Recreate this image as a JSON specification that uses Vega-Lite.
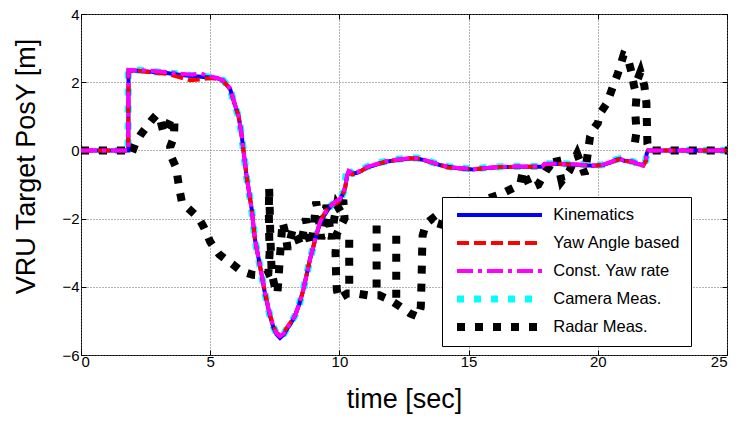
{
  "$schema": "https://vega.github.io/schema/vega-lite/v6.json",
  "width": 646,
  "height": 341,
  "autosize": "none",
  "padding": {"left": 81, "top": 14, "right": 15, "bottom": 69},
  "background": "white",
  "config": {
    "view": {"stroke": "black", "strokeWidth": 1},
    "axis": {
      "labelFont": "Liberation Sans", "labelFontSize": 15, "labelColor": "black",
      "titleFont": "Liberation Sans", "titleFontSize": 27, "titleFontWeight": "normal", "titleColor": "black",
      "gridColor": "#666", "gridDash": [1, 2], "gridOpacity": 1, "gridWidth": 1,
      "tickColor": "black", "tickWidth": 1, "domain": false
    }
  },
  "data": {"values": [
    {"s":"Kinematics","t":0,"v":0},{"s":"Kinematics","t":1.83,"v":0},{"s":"Kinematics","t":1.84,"v":2.35},{"s":"Kinematics","t":2.3,"v":2.33},{"s":"Kinematics","t":2.8,"v":2.3},{"s":"Kinematics","t":3.3,"v":2.27},{"s":"Kinematics","t":3.8,"v":2.22},{"s":"Kinematics","t":4.3,"v":2.18},{"s":"Kinematics","t":4.8,"v":2.15},{"s":"Kinematics","t":5.25,"v":2.12},{"s":"Kinematics","t":5.5,"v":2.05},{"s":"Kinematics","t":5.77,"v":1.8},{"s":"Kinematics","t":5.95,"v":1.35},{"s":"Kinematics","t":6.1,"v":1.0},{"s":"Kinematics","t":6.2,"v":0.55},{"s":"Kinematics","t":6.28,"v":0.05},{"s":"Kinematics","t":6.41,"v":-0.77},{"s":"Kinematics","t":6.52,"v":-1.3},{"s":"Kinematics","t":6.61,"v":-1.75},{"s":"Kinematics","t":6.73,"v":-2.6},{"s":"Kinematics","t":6.93,"v":-3.4},{"s":"Kinematics","t":7.12,"v":-4.2},{"s":"Kinematics","t":7.31,"v":-4.85},{"s":"Kinematics","t":7.45,"v":-5.2},{"s":"Kinematics","t":7.57,"v":-5.4},{"s":"Kinematics","t":7.7,"v":-5.5},{"s":"Kinematics","t":7.85,"v":-5.4},{"s":"Kinematics","t":7.96,"v":-5.25},{"s":"Kinematics","t":8.1,"v":-5.1},{"s":"Kinematics","t":8.28,"v":-4.85},{"s":"Kinematics","t":8.45,"v":-4.5},{"s":"Kinematics","t":8.6,"v":-4.1},{"s":"Kinematics","t":8.73,"v":-3.65},{"s":"Kinematics","t":8.86,"v":-3.2},{"s":"Kinematics","t":9.0,"v":-2.8},{"s":"Kinematics","t":9.12,"v":-2.45},{"s":"Kinematics","t":9.25,"v":-2.15},{"s":"Kinematics","t":9.38,"v":-1.95},{"s":"Kinematics","t":9.55,"v":-1.75},{"s":"Kinematics","t":9.7,"v":-1.6},{"s":"Kinematics","t":9.85,"v":-1.5},{"s":"Kinematics","t":10.02,"v":-1.45},{"s":"Kinematics","t":10.15,"v":-1.25},{"s":"Kinematics","t":10.22,"v":-1.1},{"s":"Kinematics","t":10.3,"v":-0.75},{"s":"Kinematics","t":10.36,"v":-0.62},{"s":"Kinematics","t":10.5,"v":-0.68},{"s":"Kinematics","t":10.67,"v":-0.66},{"s":"Kinematics","t":10.85,"v":-0.6},{"s":"Kinematics","t":11.06,"v":-0.5},{"s":"Kinematics","t":11.3,"v":-0.45},{"s":"Kinematics","t":11.57,"v":-0.38},{"s":"Kinematics","t":11.83,"v":-0.33},{"s":"Kinematics","t":12.22,"v":-0.28},{"s":"Kinematics","t":12.73,"v":-0.24},{"s":"Kinematics","t":13.0,"v":-0.24},{"s":"Kinematics","t":13.25,"v":-0.28},{"s":"Kinematics","t":13.6,"v":-0.36},{"s":"Kinematics","t":13.89,"v":-0.43},{"s":"Kinematics","t":14.2,"v":-0.48},{"s":"Kinematics","t":14.54,"v":-0.52},{"s":"Kinematics","t":15.18,"v":-0.56},{"s":"Kinematics","t":15.6,"v":-0.52},{"s":"Kinematics","t":16.21,"v":-0.49},{"s":"Kinematics","t":17.0,"v":-0.48},{"s":"Kinematics","t":17.85,"v":-0.48},{"s":"Kinematics","t":17.95,"v":-0.4},{"s":"Kinematics","t":18.5,"v":-0.4},{"s":"Kinematics","t":19.2,"v":-0.42},{"s":"Kinematics","t":19.8,"v":-0.45},{"s":"Kinematics","t":20.2,"v":-0.43},{"s":"Kinematics","t":20.5,"v":-0.35},{"s":"Kinematics","t":20.7,"v":-0.28},{"s":"Kinematics","t":20.86,"v":-0.25},{"s":"Kinematics","t":21.0,"v":-0.3},{"s":"Kinematics","t":21.2,"v":-0.32},{"s":"Kinematics","t":21.37,"v":-0.33},{"s":"Kinematics","t":21.55,"v":-0.4},{"s":"Kinematics","t":21.76,"v":-0.43},{"s":"Kinematics","t":21.86,"v":-0.3},{"s":"Kinematics","t":21.89,"v":-0.1},{"s":"Kinematics","t":21.95,"v":0},{"s":"Kinematics","t":25,"v":0},

    {"s":"Yaw Angle based","t":0,"v":0},{"s":"Yaw Angle based","t":1.83,"v":0},{"s":"Yaw Angle based","t":1.84,"v":2.33},{"s":"Yaw Angle based","t":2.3,"v":2.33},{"s":"Yaw Angle based","t":2.8,"v":2.28},{"s":"Yaw Angle based","t":3.3,"v":2.25},{"s":"Yaw Angle based","t":3.8,"v":2.15},{"s":"Yaw Angle based","t":4.2,"v":2.06},{"s":"Yaw Angle based","t":4.6,"v":2.08},{"s":"Yaw Angle based","t":5.0,"v":2.12},{"s":"Yaw Angle based","t":5.25,"v":2.1},{"s":"Yaw Angle based","t":5.5,"v":2.03},{"s":"Yaw Angle based","t":5.77,"v":1.8},{"s":"Yaw Angle based","t":5.95,"v":1.35},{"s":"Yaw Angle based","t":6.1,"v":1.0},{"s":"Yaw Angle based","t":6.2,"v":0.55},{"s":"Yaw Angle based","t":6.28,"v":0.05},{"s":"Yaw Angle based","t":6.41,"v":-0.77},{"s":"Yaw Angle based","t":6.52,"v":-1.3},{"s":"Yaw Angle based","t":6.61,"v":-1.75},{"s":"Yaw Angle based","t":6.73,"v":-2.6},{"s":"Yaw Angle based","t":6.93,"v":-3.4},{"s":"Yaw Angle based","t":7.12,"v":-4.15},{"s":"Yaw Angle based","t":7.31,"v":-4.8},{"s":"Yaw Angle based","t":7.45,"v":-5.15},{"s":"Yaw Angle based","t":7.57,"v":-5.35},{"s":"Yaw Angle based","t":7.7,"v":-5.42},{"s":"Yaw Angle based","t":7.85,"v":-5.35},{"s":"Yaw Angle based","t":7.96,"v":-5.2},{"s":"Yaw Angle based","t":8.1,"v":-5.05},{"s":"Yaw Angle based","t":8.28,"v":-4.85},{"s":"Yaw Angle based","t":8.45,"v":-4.5},{"s":"Yaw Angle based","t":8.6,"v":-4.1},{"s":"Yaw Angle based","t":8.73,"v":-3.65},{"s":"Yaw Angle based","t":8.86,"v":-3.2},{"s":"Yaw Angle based","t":9.0,"v":-2.8},{"s":"Yaw Angle based","t":9.12,"v":-2.45},{"s":"Yaw Angle based","t":9.25,"v":-2.1},{"s":"Yaw Angle based","t":9.38,"v":-1.9},{"s":"Yaw Angle based","t":9.55,"v":-1.7},{"s":"Yaw Angle based","t":9.7,"v":-1.58},{"s":"Yaw Angle based","t":9.9,"v":-1.55},{"s":"Yaw Angle based","t":10.02,"v":-1.45},{"s":"Yaw Angle based","t":10.15,"v":-1.25},{"s":"Yaw Angle based","t":10.22,"v":-1.1},{"s":"Yaw Angle based","t":10.3,"v":-0.75},{"s":"Yaw Angle based","t":10.36,"v":-0.65},{"s":"Yaw Angle based","t":10.5,"v":-0.7},{"s":"Yaw Angle based","t":10.67,"v":-0.67},{"s":"Yaw Angle based","t":10.85,"v":-0.6},{"s":"Yaw Angle based","t":11.06,"v":-0.5},{"s":"Yaw Angle based","t":11.3,"v":-0.45},{"s":"Yaw Angle based","t":11.57,"v":-0.38},{"s":"Yaw Angle based","t":11.83,"v":-0.33},{"s":"Yaw Angle based","t":12.22,"v":-0.28},{"s":"Yaw Angle based","t":12.73,"v":-0.23},{"s":"Yaw Angle based","t":13.0,"v":-0.24},{"s":"Yaw Angle based","t":13.25,"v":-0.28},{"s":"Yaw Angle based","t":13.6,"v":-0.36},{"s":"Yaw Angle based","t":13.89,"v":-0.43},{"s":"Yaw Angle based","t":14.2,"v":-0.5},{"s":"Yaw Angle based","t":14.54,"v":-0.52},{"s":"Yaw Angle based","t":15.18,"v":-0.55},{"s":"Yaw Angle based","t":15.6,"v":-0.53},{"s":"Yaw Angle based","t":16.21,"v":-0.49},{"s":"Yaw Angle based","t":17.0,"v":-0.48},{"s":"Yaw Angle based","t":17.85,"v":-0.48},{"s":"Yaw Angle based","t":17.95,"v":-0.4},{"s":"Yaw Angle based","t":18.5,"v":-0.4},{"s":"Yaw Angle based","t":19.2,"v":-0.42},{"s":"Yaw Angle based","t":19.8,"v":-0.45},{"s":"Yaw Angle based","t":20.2,"v":-0.43},{"s":"Yaw Angle based","t":20.5,"v":-0.35},{"s":"Yaw Angle based","t":20.7,"v":-0.3},{"s":"Yaw Angle based","t":20.86,"v":-0.25},{"s":"Yaw Angle based","t":21.0,"v":-0.3},{"s":"Yaw Angle based","t":21.2,"v":-0.33},{"s":"Yaw Angle based","t":21.37,"v":-0.35},{"s":"Yaw Angle based","t":21.55,"v":-0.42},{"s":"Yaw Angle based","t":21.76,"v":-0.45},{"s":"Yaw Angle based","t":21.86,"v":-0.3},{"s":"Yaw Angle based","t":21.89,"v":-0.1},{"s":"Yaw Angle based","t":21.95,"v":0},{"s":"Yaw Angle based","t":25,"v":0},

    {"s":"Const. Yaw rate","t":0,"v":0},{"s":"Const. Yaw rate","t":1.83,"v":0},{"s":"Const. Yaw rate","t":1.84,"v":2.36},{"s":"Const. Yaw rate","t":2.3,"v":2.35},{"s":"Const. Yaw rate","t":2.8,"v":2.33},{"s":"Const. Yaw rate","t":3.3,"v":2.3},{"s":"Const. Yaw rate","t":3.8,"v":2.25},{"s":"Const. Yaw rate","t":4.3,"v":2.22},{"s":"Const. Yaw rate","t":4.6,"v":2.26},{"s":"Const. Yaw rate","t":5.0,"v":2.17},{"s":"Const. Yaw rate","t":5.25,"v":2.13},{"s":"Const. Yaw rate","t":5.5,"v":2.06},{"s":"Const. Yaw rate","t":5.77,"v":1.82},{"s":"Const. Yaw rate","t":5.95,"v":1.38},{"s":"Const. Yaw rate","t":6.1,"v":1.0},{"s":"Const. Yaw rate","t":6.2,"v":0.55},{"s":"Const. Yaw rate","t":6.28,"v":0.05},{"s":"Const. Yaw rate","t":6.41,"v":-0.77},{"s":"Const. Yaw rate","t":6.52,"v":-1.3},{"s":"Const. Yaw rate","t":6.61,"v":-1.75},{"s":"Const. Yaw rate","t":6.73,"v":-2.6},{"s":"Const. Yaw rate","t":6.93,"v":-3.4},{"s":"Const. Yaw rate","t":7.12,"v":-4.17},{"s":"Const. Yaw rate","t":7.31,"v":-4.82},{"s":"Const. Yaw rate","t":7.45,"v":-5.17},{"s":"Const. Yaw rate","t":7.57,"v":-5.37},{"s":"Const. Yaw rate","t":7.7,"v":-5.45},{"s":"Const. Yaw rate","t":7.85,"v":-5.37},{"s":"Const. Yaw rate","t":7.96,"v":-5.22},{"s":"Const. Yaw rate","t":8.1,"v":-5.07},{"s":"Const. Yaw rate","t":8.28,"v":-4.85},{"s":"Const. Yaw rate","t":8.45,"v":-4.5},{"s":"Const. Yaw rate","t":8.6,"v":-4.1},{"s":"Const. Yaw rate","t":8.73,"v":-3.65},{"s":"Const. Yaw rate","t":8.86,"v":-3.2},{"s":"Const. Yaw rate","t":9.0,"v":-2.8},{"s":"Const. Yaw rate","t":9.12,"v":-2.42},{"s":"Const. Yaw rate","t":9.25,"v":-2.1},{"s":"Const. Yaw rate","t":9.38,"v":-1.9},{"s":"Const. Yaw rate","t":9.55,"v":-1.72},{"s":"Const. Yaw rate","t":9.7,"v":-1.6},{"s":"Const. Yaw rate","t":9.85,"v":-1.5},{"s":"Const. Yaw rate","t":10.02,"v":-1.42},{"s":"Const. Yaw rate","t":10.15,"v":-1.22},{"s":"Const. Yaw rate","t":10.22,"v":-1.05},{"s":"Const. Yaw rate","t":10.3,"v":-0.72},{"s":"Const. Yaw rate","t":10.36,"v":-0.6},{"s":"Const. Yaw rate","t":10.5,"v":-0.66},{"s":"Const. Yaw rate","t":10.67,"v":-0.64},{"s":"Const. Yaw rate","t":10.85,"v":-0.58},{"s":"Const. Yaw rate","t":11.06,"v":-0.48},{"s":"Const. Yaw rate","t":11.3,"v":-0.43},{"s":"Const. Yaw rate","t":11.57,"v":-0.36},{"s":"Const. Yaw rate","t":11.83,"v":-0.31},{"s":"Const. Yaw rate","t":12.22,"v":-0.27},{"s":"Const. Yaw rate","t":12.73,"v":-0.23},{"s":"Const. Yaw rate","t":13.0,"v":-0.23},{"s":"Const. Yaw rate","t":13.25,"v":-0.27},{"s":"Const. Yaw rate","t":13.6,"v":-0.35},{"s":"Const. Yaw rate","t":13.89,"v":-0.42},{"s":"Const. Yaw rate","t":14.2,"v":-0.48},{"s":"Const. Yaw rate","t":14.54,"v":-0.51},{"s":"Const. Yaw rate","t":15.18,"v":-0.55},{"s":"Const. Yaw rate","t":15.6,"v":-0.52},{"s":"Const. Yaw rate","t":16.21,"v":-0.48},{"s":"Const. Yaw rate","t":17.0,"v":-0.47},{"s":"Const. Yaw rate","t":17.85,"v":-0.47},{"s":"Const. Yaw rate","t":17.95,"v":-0.39},{"s":"Const. Yaw rate","t":18.5,"v":-0.39},{"s":"Const. Yaw rate","t":19.2,"v":-0.41},{"s":"Const. Yaw rate","t":19.8,"v":-0.44},{"s":"Const. Yaw rate","t":20.2,"v":-0.42},{"s":"Const. Yaw rate","t":20.5,"v":-0.34},{"s":"Const. Yaw rate","t":20.7,"v":-0.27},{"s":"Const. Yaw rate","t":20.86,"v":-0.24},{"s":"Const. Yaw rate","t":21.0,"v":-0.29},{"s":"Const. Yaw rate","t":21.2,"v":-0.31},{"s":"Const. Yaw rate","t":21.37,"v":-0.33},{"s":"Const. Yaw rate","t":21.55,"v":-0.4},{"s":"Const. Yaw rate","t":21.76,"v":-0.43},{"s":"Const. Yaw rate","t":21.86,"v":-0.3},{"s":"Const. Yaw rate","t":21.89,"v":-0.1},{"s":"Const. Yaw rate","t":21.95,"v":0},{"s":"Const. Yaw rate","t":25,"v":0},

    {"s":"Camera Meas.","t":0,"v":0},{"s":"Camera Meas.","t":1.82,"v":0},{"s":"Camera Meas.","t":1.83,"v":2.36},{"s":"Camera Meas.","t":2.3,"v":2.35},{"s":"Camera Meas.","t":2.8,"v":2.31},{"s":"Camera Meas.","t":3.3,"v":2.28},{"s":"Camera Meas.","t":3.8,"v":2.24},{"s":"Camera Meas.","t":4.3,"v":2.2},{"s":"Camera Meas.","t":4.8,"v":2.17},{"s":"Camera Meas.","t":5.25,"v":2.13},{"s":"Camera Meas.","t":5.5,"v":2.06},{"s":"Camera Meas.","t":5.77,"v":1.8},{"s":"Camera Meas.","t":5.95,"v":1.33},{"s":"Camera Meas.","t":6.1,"v":0.98},{"s":"Camera Meas.","t":6.2,"v":0.53},{"s":"Camera Meas.","t":6.28,"v":0.03},{"s":"Camera Meas.","t":6.41,"v":-0.8},{"s":"Camera Meas.","t":6.52,"v":-1.33},{"s":"Camera Meas.","t":6.61,"v":-1.78},{"s":"Camera Meas.","t":6.73,"v":-2.62},{"s":"Camera Meas.","t":6.93,"v":-3.42},{"s":"Camera Meas.","t":7.12,"v":-4.2},{"s":"Camera Meas.","t":7.31,"v":-4.85},{"s":"Camera Meas.","t":7.45,"v":-5.18},{"s":"Camera Meas.","t":7.57,"v":-5.38},{"s":"Camera Meas.","t":7.7,"v":-5.47},{"s":"Camera Meas.","t":7.85,"v":-5.38},{"s":"Camera Meas.","t":7.96,"v":-5.23},{"s":"Camera Meas.","t":8.1,"v":-5.08},{"s":"Camera Meas.","t":8.28,"v":-4.85},{"s":"Camera Meas.","t":8.45,"v":-4.5},{"s":"Camera Meas.","t":8.6,"v":-4.1},{"s":"Camera Meas.","t":8.73,"v":-3.65},{"s":"Camera Meas.","t":8.86,"v":-3.2},{"s":"Camera Meas.","t":9.0,"v":-2.8},{"s":"Camera Meas.","t":9.12,"v":-2.45},{"s":"Camera Meas.","t":9.25,"v":-2.15},{"s":"Camera Meas.","t":9.38,"v":-1.95},{"s":"Camera Meas.","t":9.55,"v":-1.75},{"s":"Camera Meas.","t":9.7,"v":-1.6},{"s":"Camera Meas.","t":9.85,"v":-1.5},{"s":"Camera Meas.","t":10.02,"v":-1.45},{"s":"Camera Meas.","t":10.15,"v":-1.25},{"s":"Camera Meas.","t":10.22,"v":-1.0},{"s":"Camera Meas.","t":10.28,"v":-0.5},{"s":"Camera Meas.","t":10.36,"v":-0.6},{"s":"Camera Meas.","t":10.5,"v":-0.68},{"s":"Camera Meas.","t":10.67,"v":-0.65},{"s":"Camera Meas.","t":10.85,"v":-0.58},{"s":"Camera Meas.","t":11.06,"v":-0.48},{"s":"Camera Meas.","t":11.3,"v":-0.43},{"s":"Camera Meas.","t":11.57,"v":-0.36},{"s":"Camera Meas.","t":11.83,"v":-0.31},{"s":"Camera Meas.","t":12.22,"v":-0.26},{"s":"Camera Meas.","t":12.73,"v":-0.22},{"s":"Camera Meas.","t":13.0,"v":-0.22},{"s":"Camera Meas.","t":13.25,"v":-0.27},{"s":"Camera Meas.","t":13.6,"v":-0.35},{"s":"Camera Meas.","t":13.89,"v":-0.42},{"s":"Camera Meas.","t":14.2,"v":-0.47},{"s":"Camera Meas.","t":14.54,"v":-0.51},{"s":"Camera Meas.","t":15.18,"v":-0.55},{"s":"Camera Meas.","t":15.6,"v":-0.51},{"s":"Camera Meas.","t":16.21,"v":-0.48},{"s":"Camera Meas.","t":17.0,"v":-0.47},{"s":"Camera Meas.","t":17.85,"v":-0.47},{"s":"Camera Meas.","t":17.95,"v":-0.39},{"s":"Camera Meas.","t":18.5,"v":-0.39},{"s":"Camera Meas.","t":19.2,"v":-0.41},{"s":"Camera Meas.","t":19.8,"v":-0.44},{"s":"Camera Meas.","t":20.2,"v":-0.42},{"s":"Camera Meas.","t":20.5,"v":-0.34},{"s":"Camera Meas.","t":20.7,"v":-0.27},{"s":"Camera Meas.","t":20.86,"v":-0.24},{"s":"Camera Meas.","t":21.0,"v":-0.29},{"s":"Camera Meas.","t":21.2,"v":-0.31},{"s":"Camera Meas.","t":21.37,"v":-0.33},{"s":"Camera Meas.","t":21.55,"v":-0.4},{"s":"Camera Meas.","t":21.76,"v":-0.43},{"s":"Camera Meas.","t":21.86,"v":-0.3},{"s":"Camera Meas.","t":21.89,"v":-0.1},{"s":"Camera Meas.","t":21.95,"v":0},{"s":"Camera Meas.","t":25,"v":0},

    {"s":"Radar Meas.","g":0,"i":1,"t":0,"v":0},{"s":"Radar Meas.","g":0,"i":2,"t":1.9,"v":0},{"s":"Radar Meas.","g":0,"i":3,"t":1.96,"v":-0.09},{"s":"Radar Meas.","g":0,"i":4,"t":2.1,"v":0.2},{"s":"Radar Meas.","g":0,"i":5,"t":2.3,"v":0.45},{"s":"Radar Meas.","g":0,"i":6,"t":2.55,"v":0.7},{"s":"Radar Meas.","g":0,"i":7,"t":2.75,"v":0.9},{"s":"Radar Meas.","g":0,"i":8,"t":2.93,"v":1.05},{"s":"Radar Meas.","g":0,"i":9,"t":3.05,"v":0.95},{"s":"Radar Meas.","g":0,"i":10,"t":3.2,"v":0.5},{"s":"Radar Meas.","g":0,"i":11,"t":3.35,"v":0.7},{"s":"Radar Meas.","g":0,"i":12,"t":3.5,"v":0.95},{"s":"Radar Meas.","g":0,"i":13,"t":3.62,"v":0.9},{"s":"Radar Meas.","g":0,"i":14,"t":3.6,"v":0.4},{"s":"Radar Meas.","g":0,"i":15,"t":3.45,"v":0.1},{"s":"Radar Meas.","g":0,"i":16,"t":3.5,"v":-0.2},{"s":"Radar Meas.","g":0,"i":17,"t":3.65,"v":-0.45},{"s":"Radar Meas.","g":0,"i":18,"t":3.72,"v":-0.7},{"s":"Radar Meas.","g":0,"i":19,"t":3.8,"v":-1.1},{"s":"Radar Meas.","g":0,"i":20,"t":3.9,"v":-1.5},{"s":"Radar Meas.","g":0,"i":21,"t":4.15,"v":-1.7},{"s":"Radar Meas.","g":0,"i":22,"t":4.41,"v":-1.88},{"s":"Radar Meas.","g":0,"i":23,"t":4.6,"v":-2.05},{"s":"Radar Meas.","g":0,"i":24,"t":4.75,"v":-2.25},{"s":"Radar Meas.","g":0,"i":25,"t":4.9,"v":-2.5},{"s":"Radar Meas.","g":0,"i":26,"t":5.0,"v":-2.68},{"s":"Radar Meas.","g":0,"i":27,"t":5.15,"v":-2.85},{"s":"Radar Meas.","g":0,"i":28,"t":5.35,"v":-3.05},{"s":"Radar Meas.","g":0,"i":29,"t":5.6,"v":-3.2},{"s":"Radar Meas.","g":0,"i":30,"t":5.85,"v":-3.33},{"s":"Radar Meas.","g":0,"i":31,"t":6.1,"v":-3.48},{"s":"Radar Meas.","g":0,"i":32,"t":6.35,"v":-3.58},{"s":"Radar Meas.","g":0,"i":33,"t":6.65,"v":-3.65},{"s":"Radar Meas.","g":0,"i":34,"t":7.05,"v":-3.67},{"s":"Radar Meas.","g":0,"i":35,"t":7.25,"v":-3.6},{"s":"Radar Meas.","g":0,"i":36,"t":7.3,"v":-3.0},{"s":"Radar Meas.","g":0,"i":37,"t":7.28,"v":-2.4},{"s":"Radar Meas.","g":0,"i":38,"t":7.27,"v":-1.8},{"s":"Radar Meas.","g":0,"i":39,"t":7.28,"v":-1.1},{"s":"Radar Meas.","g":0,"i":40,"t":7.3,"v":-1.6},{"s":"Radar Meas.","g":0,"i":41,"t":7.32,"v":-2.3},{"s":"Radar Meas.","g":0,"i":42,"t":7.35,"v":-3.0},{"s":"Radar Meas.","g":0,"i":43,"t":7.38,"v":-3.6},{"s":"Radar Meas.","g":0,"i":44,"t":7.5,"v":-4.0},{"s":"Radar Meas.","g":0,"i":45,"t":7.6,"v":-4.2},{"s":"Radar Meas.","g":0,"i":46,"t":7.65,"v":-3.7},{"s":"Radar Meas.","g":0,"i":47,"t":7.7,"v":-3.1},{"s":"Radar Meas.","g":0,"i":48,"t":7.75,"v":-2.6},{"s":"Radar Meas.","g":0,"i":49,"t":7.8,"v":-2.1},{"s":"Radar Meas.","g":0,"i":50,"t":7.9,"v":-2.4},{"s":"Radar Meas.","g":0,"i":51,"t":8.0,"v":-2.9},{"s":"Radar Meas.","g":0,"i":52,"t":8.1,"v":-2.6},{"s":"Radar Meas.","g":0,"i":53,"t":8.2,"v":-2.3},{"s":"Radar Meas.","g":0,"i":54,"t":8.35,"v":-2.5},{"s":"Radar Meas.","g":0,"i":55,"t":8.5,"v":-2.8},{"s":"Radar Meas.","g":0,"i":56,"t":8.6,"v":-2.4},{"s":"Radar Meas.","g":0,"i":57,"t":8.7,"v":-2.0},{"s":"Radar Meas.","g":0,"i":58,"t":8.8,"v":-2.5},{"s":"Radar Meas.","g":0,"i":59,"t":8.9,"v":-2.8},{"s":"Radar Meas.","g":0,"i":60,"t":9.0,"v":-2.3},{"s":"Radar Meas.","g":0,"i":61,"t":9.1,"v":-1.5},{"s":"Radar Meas.","g":0,"i":62,"t":9.2,"v":-2.0},{"s":"Radar Meas.","g":0,"i":63,"t":9.3,"v":-2.6},{"s":"Radar Meas.","g":0,"i":64,"t":9.4,"v":-2.2},{"s":"Radar Meas.","g":0,"i":65,"t":9.5,"v":-1.6},{"s":"Radar Meas.","g":0,"i":66,"t":9.6,"v":-2.1},{"s":"Radar Meas.","g":0,"i":67,"t":9.7,"v":-2.6},{"s":"Radar Meas.","g":0,"i":68,"t":9.8,"v":-2.0},{"s":"Radar Meas.","g":0,"i":69,"t":9.9,"v":-1.6},{"s":"Radar Meas.","g":0,"i":70,"t":10.05,"v":-1.8},{"s":"Radar Meas.","g":0,"i":71,"t":10.15,"v":-1.45},{"s":"Radar Meas.","g":0,"i":72,"t":10.2,"v":-2.0},{"s":"Radar Meas.","g":0,"i":73,"t":9.9,"v":-2.45},{"s":"Radar Meas.","g":0,"i":74,"t":9.85,"v":-3.0},{"s":"Radar Meas.","g":0,"i":75,"t":9.87,"v":-3.6},{"s":"Radar Meas.","g":0,"i":76,"t":9.9,"v":-4.1},{"s":"Radar Meas.","g":0,"i":77,"t":9.98,"v":-4.35},{"s":"Radar Meas.","g":0,"i":78,"t":10.3,"v":-4.2},{"s":"Radar Meas.","g":0,"i":79,"t":10.7,"v":-4.2},{"s":"Radar Meas.","g":0,"i":80,"t":11.1,"v":-4.25},{"s":"Radar Meas.","g":0,"i":81,"t":11.55,"v":-4.25},{"s":"Radar Meas.","g":0,"i":82,"t":11.96,"v":-4.39},{"s":"Radar Meas.","g":0,"i":83,"t":12.35,"v":-4.58},{"s":"Radar Meas.","g":0,"i":84,"t":12.73,"v":-4.78},{"s":"Radar Meas.","g":0,"i":85,"t":13.05,"v":-4.88},{"s":"Radar Meas.","g":0,"i":86,"t":13.15,"v":-4.6},{"s":"Radar Meas.","g":0,"i":87,"t":13.18,"v":-3.8},{"s":"Radar Meas.","g":0,"i":88,"t":13.2,"v":-3.0},{"s":"Radar Meas.","g":0,"i":89,"t":13.22,"v":-2.5},{"s":"Radar Meas.","g":0,"i":90,"t":13.35,"v":-2.15},{"s":"Radar Meas.","g":0,"i":91,"t":13.6,"v":-2.0},{"s":"Radar Meas.","g":0,"i":92,"t":13.9,"v":-2.3},{"s":"Radar Meas.","g":0,"i":93,"t":14.1,"v":-1.8},{"s":"Radar Meas.","g":0,"i":94,"t":14.4,"v":-1.4},{"s":"Radar Meas.","g":0,"i":95,"t":14.8,"v":-1.6},{"s":"Radar Meas.","g":0,"i":96,"t":15.3,"v":-1.5},{"s":"Radar Meas.","g":0,"i":97,"t":15.8,"v":-1.4},{"s":"Radar Meas.","g":0,"i":98,"t":16.2,"v":-1.3},{"s":"Radar Meas.","g":0,"i":99,"t":16.6,"v":-1.15},{"s":"Radar Meas.","g":0,"i":100,"t":17.0,"v":-1.0},{"s":"Radar Meas.","g":0,"i":101,"t":17.1,"v":-0.6},{"s":"Radar Meas.","g":0,"i":102,"t":17.4,"v":-1.1},{"s":"Radar Meas.","g":0,"i":103,"t":17.7,"v":-1.0},{"s":"Radar Meas.","g":0,"i":104,"t":18.0,"v":-0.6},{"s":"Radar Meas.","g":0,"i":105,"t":18.4,"v":-0.2},{"s":"Radar Meas.","g":0,"i":106,"t":18.6,"v":-0.9},{"s":"Radar Meas.","g":0,"i":107,"t":18.9,"v":-0.6},{"s":"Radar Meas.","g":0,"i":108,"t":19.2,"v":-0.1},{"s":"Radar Meas.","g":0,"i":109,"t":19.5,"v":-0.7},{"s":"Radar Meas.","g":0,"i":110,"t":19.7,"v":0.4},{"s":"Radar Meas.","g":0,"i":111,"t":19.85,"v":0.65},{"s":"Radar Meas.","g":0,"i":112,"t":20.0,"v":0.8},{"s":"Radar Meas.","g":0,"i":113,"t":20.1,"v":1.1},{"s":"Radar Meas.","g":0,"i":114,"t":20.35,"v":1.38},{"s":"Radar Meas.","g":0,"i":115,"t":20.55,"v":1.8},{"s":"Radar Meas.","g":0,"i":116,"t":20.75,"v":2.2},{"s":"Radar Meas.","g":0,"i":117,"t":20.9,"v":2.55},{"s":"Radar Meas.","g":0,"i":118,"t":21.0,"v":2.8},{"s":"Radar Meas.","g":0,"i":119,"t":21.15,"v":2.75},{"s":"Radar Meas.","g":0,"i":120,"t":21.3,"v":2.3},{"s":"Radar Meas.","g":0,"i":121,"t":21.4,"v":1.9},{"s":"Radar Meas.","g":0,"i":122,"t":21.5,"v":1.6},{"s":"Radar Meas.","g":0,"i":123,"t":21.45,"v":1.1},{"s":"Radar Meas.","g":0,"i":124,"t":21.5,"v":0.55},{"s":"Radar Meas.","g":0,"i":125,"t":21.4,"v":0.05},
    {"s":"Radar Meas.","g":1,"i":126,"t":21.55,"v":2.1},{"s":"Radar Meas.","g":1,"i":127,"t":21.65,"v":2.3},{"s":"Radar Meas.","g":1,"i":128,"t":21.8,"v":1.9},{"s":"Radar Meas.","g":1,"i":129,"t":21.88,"v":1.4},{"s":"Radar Meas.","g":1,"i":130,"t":21.9,"v":0.8},{"s":"Radar Meas.","g":1,"i":131,"t":21.92,"v":0.2},{"s":"Radar Meas.","g":1,"i":132,"t":22.0,"v":0},{"s":"Radar Meas.","g":1,"i":133,"t":25,"v":0},
    {"s":"Radar Meas.","g":2,"i":134,"t":10.38,"v":-2.62},{"s":"Radar Meas.","g":2,"i":135,"t":10.38,"v":-3.3},{"s":"Radar Meas.","g":2,"i":136,"t":10.38,"v":-3.92},
    {"s":"Radar Meas.","g":3,"i":137,"t":11.44,"v":-2.2},{"s":"Radar Meas.","g":3,"i":138,"t":11.44,"v":-3.1},{"s":"Radar Meas.","g":3,"i":139,"t":11.44,"v":-4.02},
    {"s":"Radar Meas.","g":4,"i":140,"t":12.2,"v":-2.5},{"s":"Radar Meas.","g":4,"i":141,"t":12.2,"v":-3.4},{"s":"Radar Meas.","g":4,"i":142,"t":12.2,"v":-4.32}
  ]},
  "layer": [
    {
      "encoding": {
        "x": {"field": "t", "type": "quantitative", "scale": {"domain": [0, 25], "nice": false},
              "axis": {"values": [0, 5, 10, 15, 20, 25], "title": "time [sec]", "grid": true, "tickSize": -5, "labelPadding": 4, "titleBaseline": "alphabetic", "titleY": 52}},
        "y": {"field": "v", "type": "quantitative", "scale": {"domain": [-6, 4], "nice": false, "zero": false},
              "axis": {"values": [-6, -4, -2, 0, 2, 4], "title": "VRU Target PosY [m]", "grid": true, "tickSize": -5, "labelPadding": 7, "titleBaseline": "alphabetic", "titleX": -47, "titleY": 152}},
        "color": {"field": "s", "type": "nominal",
                  "scale": {"domain": ["Kinematics", "Yaw Angle based", "Const. Yaw rate", "Camera Meas.", "Radar Meas."], "range": ["#0000ff", "#ff0000", "#ff00ff", "#00ffff", "#000000"]},
                  "legend": {"orient": "none", "legendX": 361, "legendY": 183, "title": null, "fillColor": "white", "strokeColor": "black", "padding": 9.75, "cornerRadius": 0, "symbolType": "stroke", "symbolSize": 7225, "clipHeight": 16.5, "rowPadding": 11, "symbolOffset": 3.25, "labelOffset": 9.25, "labelFontSize": 16.5, "labelFont": "Liberation Sans", "labelColor": "black", "labelLimit": 300,
                             "encode": {"symbols": {"update": {"strokeWidth": {"signal": "(datum.value === 'Camera Meas.' ? 7 : (datum.value === 'Radar Meas.' ? 8 : 4))"}}}}}},
        "strokeDash": {"field": "s", "type": "nominal",
                  "scale": {"domain": ["Kinematics", "Yaw Angle based", "Const. Yaw rate", "Camera Meas.", "Radar Meas."], "range": [[1, 0], [12, 5], [16, 5, 4, 5], [7, 10], [8, 10]]},
                  "legend": {"orient": "none", "legendX": 361, "legendY": 183, "title": null, "fillColor": "white", "strokeColor": "black", "padding": 9.75, "cornerRadius": 0, "symbolType": "stroke", "symbolSize": 7225, "clipHeight": 16.5, "rowPadding": 11, "symbolOffset": 3.25, "labelOffset": 9.25, "labelFontSize": 16.5, "labelFont": "Liberation Sans", "labelColor": "black", "labelLimit": 300,
                             "encode": {"symbols": {"update": {"strokeWidth": {"signal": "(datum.value === 'Camera Meas.' ? 7 : (datum.value === 'Radar Meas.' ? 8 : 4))"}}}}}}
      },
      "layer": [
        {"transform": [{"filter": "datum.s === 'Camera Meas.'"}], "mark": {"type": "line", "strokeCap": "butt", "strokeWidth": 7}},
        {"transform": [{"filter": "datum.s === 'Radar Meas.'"}], "mark": {"type": "line", "strokeCap": "butt", "strokeWidth": 8},
         "encoding": {"order": {"field": "i", "type": "quantitative"}, "detail": {"field": "g", "type": "nominal"}}},
        {"transform": [{"filter": "datum.s === 'Kinematics'"}], "mark": {"type": "line", "strokeCap": "butt", "strokeWidth": 4}},
        {"transform": [{"filter": "datum.s === 'Yaw Angle based'"}], "mark": {"type": "line", "strokeCap": "butt", "strokeWidth": 4}},
        {"transform": [{"filter": "datum.s === 'Const. Yaw rate'"}], "mark": {"type": "line", "strokeCap": "butt", "strokeWidth": 4}}
      ]
    },
    {
      "transform": [{"filter": "datum.s === 'Kinematics'"}],
      "mark": {"type": "line", "opacity": 0},
      "encoding": {
        "x": {"field": "t", "type": "quantitative", "axis": {"orient": "top", "values": [0, 5, 10, 15, 20, 25], "labels": false, "grid": false, "title": null, "tickSize": -5}},
        "y": {"field": "v", "type": "quantitative", "axis": {"orient": "right", "values": [-6, -4, -2, 0, 2, 4], "labels": false, "grid": false, "title": null, "tickSize": -5}}
      }
    }
  ],
  "resolve": {"axis": {"x": "independent", "y": "independent"}}
}
